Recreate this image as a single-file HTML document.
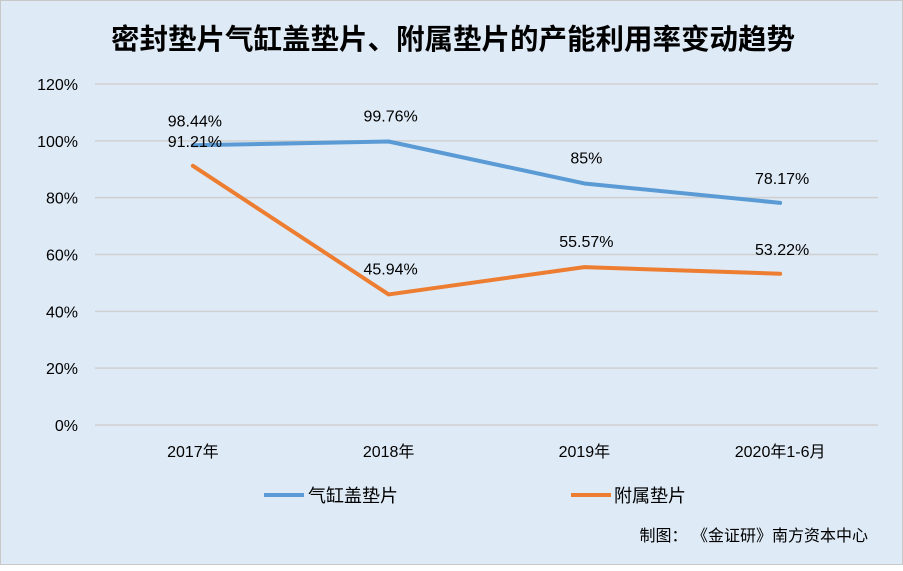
<!DOCTYPE html>
<html><head><meta charset="utf-8"><style>
body{margin:0;width:903px;height:565px;overflow:hidden;font-family:"Liberation Sans","Noto Sans CJK SC",sans-serif}
#wrap{position:absolute;left:0;top:0;width:901px;height:563px;background:#DEEAF6;border:1px solid #C8C8C8}
</style></head><body>
<div id="wrap">
<svg width="903" height="565">
<text x="452" y="48" text-anchor="middle" font-size="28.5" font-weight="bold" fill="#000" font-family="Liberation Sans, Noto Sans CJK SC, sans-serif">密封垫片气缸盖垫片、附属垫片的产能利用率变动趋势</text>
<g id="grid"></g><g id="yt"></g><g id="xt"></g><g id="series"></g><g id="labels"></g>
<g>
<line x1="263" y1="494" x2="303" y2="494" stroke="#5B9BD5" stroke-width="4"/>
<text x="307" y="501" font-size="18" fill="#000">气缸盖垫片</text>
<line x1="570" y1="494" x2="610" y2="494" stroke="#ED7D31" stroke-width="4"/>
<text x="613" y="501" font-size="18" fill="#000">附属垫片</text>
</g>
<text x="867" y="540" text-anchor="end" font-size="16" fill="#000" xml:space="preserve">制图： 《金证研》南方资本中心</text>
</svg></div>
<script>
const categories=["2017年","2018年","2019年","2020年1-6月"];
const cylinderValues=[98.44,99.76,85,78.17];
const cylinderLabels=["98.44%","99.76%","85%","78.17%"];
const accessoryValues=[91.21,45.94,55.57,53.22];
const accessoryLabels=["91.21%","45.94%","55.57%","53.22%"];
const yTicks=[0,20,40,60,80,100,120];
const NS="http://www.w3.org/2000/svg";
const x0=94,x1=877,yTop=83,yBot=424,yMax=120;
const band=(x1-x0)/categories.length;
const xs=i=>x0+band*(i+0.5);
const ys=v=>yBot-(v/yMax)*(yBot-yTop);
function mk(tag,attrs,parent,text){const e=document.createElementNS(NS,tag);for(const k in attrs)e.setAttribute(k,attrs[k]);if(text!==undefined)e.textContent=text;document.getElementById(parent).appendChild(e);return e;}
yTicks.forEach(t=>{
 const g=mk('line',{x1:x0,x2:x1,y1:ys(t),y2:ys(t),stroke:'#D0D0D0','stroke-width':1.5},'grid');
 
 
 const l=mk('text',{x:77,y:ys(t)+6,'text-anchor':'end','font-size':16,fill:'#000'},'yt',t+'%');
 
 
});
categories.forEach((c,i)=>{
 const l=mk('text',{x:xs(i),y:456,'text-anchor':'middle','font-size':16,fill:'#000'},'xt',c);
 
 
});
function series(vals,labs,color,name,dy){
 const p=mk('polyline',{points:vals.map((v,i)=>xs(i)+','+ys(v)).join(' '),fill:'none',stroke:color,'stroke-width':4,'stroke-linejoin':'round','stroke-linecap':'round'},'series');
 
 
 vals.forEach((v,i)=>{
  const t=mk('text',{x:xs(i)+2,y:ys(v)+dy[i],'text-anchor':'middle','font-size':16,fill:'#000'},'labels',labs[i]);
  
  
 });
}
series(cylinderValues,cylinderLabels,'#5B9BD5','cylinder-gasket',[-19,-20,-20,-19]);
series(accessoryValues,accessoryLabels,'#ED7D31','accessory-gasket',[-19,-20,-20,-19]);
</script>
</body></html>
